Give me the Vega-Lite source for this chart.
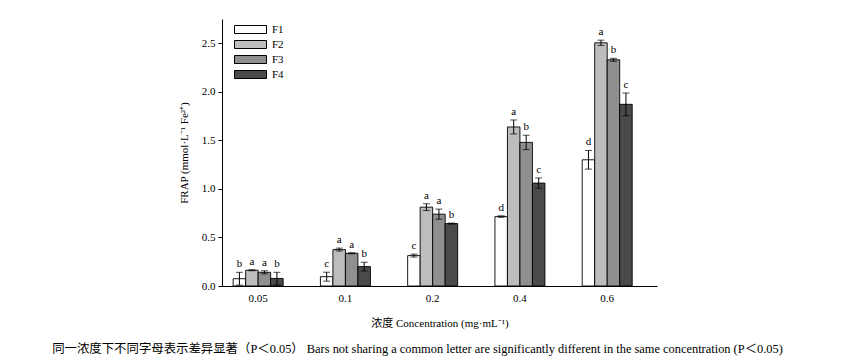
{
  "$schema": "https://vega.github.io/schema/vega-lite/v6.json",
  "width": 435,
  "height": 267,
  "autosize": "none",
  "padding": {"left": 222, "top": 19, "right": 199, "bottom": 75},
  "background": "white",
  "config": {
    "font": "Times New Roman, Liberation Serif, serif",
    "view": {"stroke": null},
    "axis": {"domainColor": "black", "tickColor": "black", "labelColor": "black", "titleColor": "black", "grid": false, "labelFont": "Times New Roman, Liberation Serif, serif", "titleFont": "Times New Roman, Liberation Serif, Noto Sans CJK SC, serif", "titleFontWeight": "normal", "labelFontSize": 11, "titleFontSize": 11}
  },
  "title": {
    "text": "同一浓度下不同字母表示差异显著（P＜0.05）  Bars not sharing a common letter are significantly different in the same concentration (P＜0.05)",
    "orient": "bottom",
    "anchor": "middle",
    "dx": -22,
    "offset": 15,
    "fontSize": 12.4,
    "fontWeight": "normal",
    "color": "black",
    "font": "Times New Roman, Liberation Serif, Noto Sans CJK SC, serif"
  },
  "data": {
    "values": [
      {"conc": "0.05", "grp": "F1", "mean": 0.075, "lo": 0.009, "hi": 0.141, "letter": "b"},
      {"conc": "0.05", "grp": "F2", "mean": 0.162, "lo": 0.157, "hi": 0.167, "letter": "a"},
      {"conc": "0.05", "grp": "F3", "mean": 0.141, "lo": 0.125, "hi": 0.157, "letter": "a"},
      {"conc": "0.05", "grp": "F4", "mean": 0.078, "lo": 0.012, "hi": 0.141, "letter": "b"},
      {"conc": "0.1", "grp": "F1", "mean": 0.096, "lo": 0.05, "hi": 0.142, "letter": "c"},
      {"conc": "0.1", "grp": "F2", "mean": 0.375, "lo": 0.36, "hi": 0.39, "letter": "a"},
      {"conc": "0.1", "grp": "F3", "mean": 0.337, "lo": 0.332, "hi": 0.342, "letter": "a"},
      {"conc": "0.1", "grp": "F4", "mean": 0.2, "lo": 0.155, "hi": 0.245, "letter": "b"},
      {"conc": "0.2", "grp": "F1", "mean": 0.313, "lo": 0.298, "hi": 0.328, "letter": "c"},
      {"conc": "0.2", "grp": "F2", "mean": 0.812, "lo": 0.777, "hi": 0.847, "letter": "a"},
      {"conc": "0.2", "grp": "F3", "mean": 0.74, "lo": 0.688, "hi": 0.792, "letter": "a"},
      {"conc": "0.2", "grp": "F4", "mean": 0.643, "lo": 0.638, "hi": 0.648, "letter": "b"},
      {"conc": "0.4", "grp": "F1", "mean": 0.715, "lo": 0.707, "hi": 0.723, "letter": "d"},
      {"conc": "0.4", "grp": "F2", "mean": 1.638, "lo": 1.566, "hi": 1.71, "letter": "a"},
      {"conc": "0.4", "grp": "F3", "mean": 1.479, "lo": 1.405, "hi": 1.553, "letter": "b"},
      {"conc": "0.4", "grp": "F4", "mean": 1.06, "lo": 1.007, "hi": 1.113, "letter": "c"},
      {"conc": "0.6", "grp": "F1", "mean": 1.3, "lo": 1.204, "hi": 1.396, "letter": "d"},
      {"conc": "0.6", "grp": "F2", "mean": 2.505, "lo": 2.478, "hi": 2.532, "letter": "a"},
      {"conc": "0.6", "grp": "F3", "mean": 2.33, "lo": 2.315, "hi": 2.345, "letter": "b"},
      {"conc": "0.6", "grp": "F4", "mean": 1.871, "lo": 1.754, "hi": 1.988, "letter": "c"}
    ]
  },
  "encoding": {
    "x": {
      "field": "conc",
      "type": "nominal",
      "sort": ["0.05", "0.1", "0.2", "0.4", "0.6"],
      "scale": {"paddingInner": 0.427, "paddingOuter": 0.206, "align": 0.31},
      "axis": {"title": "浓度 Concentration (mg·mL⁻¹)", "labelAngle": 0, "ticks": false, "labelPadding": 6, "titlePadding": 14}
    },
    "xOffset": {"field": "grp", "type": "nominal", "sort": ["F1", "F2", "F3", "F4"], "scale": {"paddingInner": 0, "paddingOuter": 0}}
  },
  "layer": [
    {
      "mark": {"type": "bar", "stroke": "black", "strokeWidth": 0.9},
      "encoding": {
        "y": {
          "field": "mean",
          "type": "quantitative",
          "scale": {"domain": [0, 2.75], "nice": false},
          "axis": {"title": "FRAP (mmol·L⁻¹ Fe²⁺)", "values": [0, 0.5, 1, 1.5, 2, 2.5], "format": ".1f", "tickSize": 4, "labelPadding": 3, "titlePadding": 12}
        },
        "fill": {
          "field": "grp",
          "type": "nominal",
          "scale": {"domain": ["F1", "F2", "F3", "F4"], "range": ["#ffffff", "#bdbdbd", "#8f8f8f", "#4a4a4a"]},
          "legend": {
            "title": null,
            "orient": "none",
            "legendX": 23,
            "legendY": 5,
            "symbolType": "M-4,-1H4V1H-4Z",
            "symbolSize": 64,
            "symbolStrokeColor": "black",
            "symbolStrokeWidth": 1,
            "labelFont": "Times New Roman, Liberation Serif, serif",
            "labelFontSize": 11,
            "labelColor": "black",
            "labelOffset": 16,
            "rowPadding": 2
          }
        }
      }
    },
    {
      "mark": {"type": "rule", "color": "black", "strokeWidth": 1},
      "encoding": {"y": {"field": "lo", "type": "quantitative"}, "y2": {"field": "hi"}}
    },
    {
      "mark": {"type": "tick", "color": "black", "thickness": 1, "size": 7, "orient": "horizontal"},
      "encoding": {"y": {"field": "lo", "type": "quantitative"}}
    },
    {
      "mark": {"type": "tick", "color": "black", "thickness": 1, "size": 7, "orient": "horizontal"},
      "encoding": {"y": {"field": "hi", "type": "quantitative"}}
    },
    {
      "mark": {"type": "text", "baseline": "bottom", "dy": -3, "fontSize": 11, "color": "black", "font": "Times New Roman, Liberation Serif, serif"},
      "encoding": {"y": {"field": "hi", "type": "quantitative"}, "text": {"field": "letter"}}
    }
  ]
}
